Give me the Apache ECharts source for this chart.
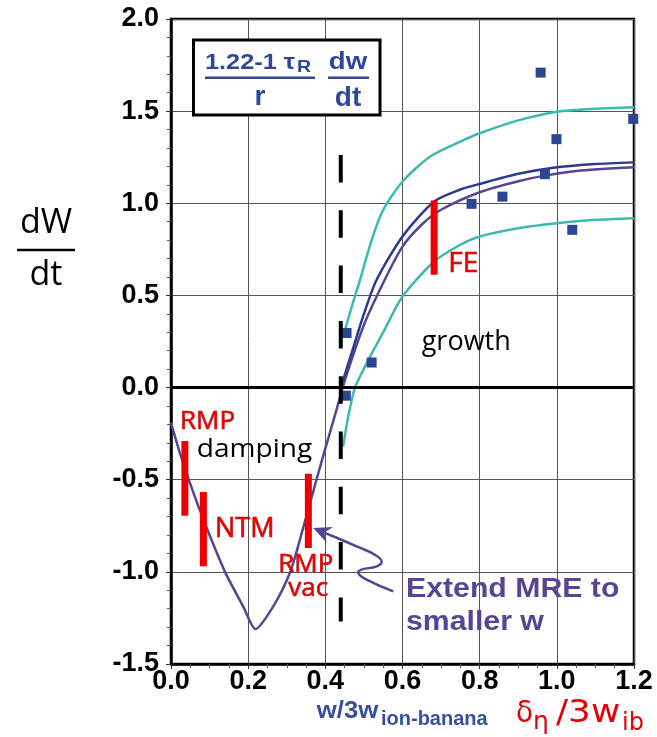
<!DOCTYPE html>
<html><head><meta charset="utf-8">
<script src="https://cdn.jsdelivr.net/npm/echarts/dist/echarts.min.js"></script>
<style>html,body{margin:0;padding:0;background:#fff}#c{width:657px;height:737px}</style>
</head><body><div id="c"></div>
<script>
// ---- data ----
const xTickValues = [0.0, 0.2, 0.4, 0.6, 0.8, 1.0, 1.2];
const yTickValues = [-1.5, -1.0, -0.5, 0.0, 0.5, 1.0, 1.5, 2.0];

// MRE curve extended to smaller w (purple)
const mreCurve = [
  [0.0,-0.19],[0.023,-0.355],[0.047,-0.505],[0.084,-0.716],[0.14,-1.0],[0.187,-1.187],
  [0.219,-1.31],[0.265,-1.187],[0.308,-1.006],[0.334,-0.826],[0.377,-0.5],[0.40,-0.33],
  [0.425,-0.15],[0.451,0.042],[0.50,0.34],[0.554,0.585],[0.60,0.765],[0.65,0.885],
  [0.70,0.965],[0.80,1.06],[0.90,1.12],[0.969,1.15],[1.05,1.175],[1.2,1.195]
];
// navy model curve
const navyCurve = [
  [0.44,0.0],[0.47,0.2],[0.50,0.40],[0.533,0.585],[0.60,0.82],[0.682,1.01],[0.75,1.075],
  [0.80,1.105],[0.90,1.16],[1.00,1.195],[1.10,1.213],[1.20,1.222]
];
// teal upper / lower bounds
const tealUpper = [
  [0.451,0.313],[0.47,0.45],[0.49,0.585],[0.52,0.80],[0.55,0.964],[0.60,1.118],[0.671,1.253],
  [0.75,1.335],[0.80,1.38],[0.90,1.45],[1.00,1.497],[1.10,1.513],[1.2,1.521]
];
const tealLower = [
  [0.446,-0.32],[0.46,-0.15],[0.477,0.0],[0.516,0.168],[0.55,0.30],[0.60,0.494],[0.682,0.684],
  [0.75,0.775],[0.80,0.82],[0.90,0.865],[1.00,0.892],[1.10,0.91],[1.2,0.919]
];
// experimental points (squares)
const measured = [
  [0.453,-0.044],[0.455,0.296],[0.52,0.136],[0.779,0.997],[0.859,1.036],[0.958,1.709],
  [0.969,1.158],[0.999,1.348],[1.04,0.856],[1.198,1.458]
];
// red range bars: [x, yTop, yBottom]
const rangeBars = [
  [0.036,-0.29,-0.695],[0.084,-0.567,-0.97],[0.356,-0.467,-0.87],[0.682,1.015,0.612]
];
// dashed threshold line: [x, yTop, yBottom]
const threshold = [0.44, 1.262, -1.27];
// annotation arrow path (tip first)
const arrowPath = [
  [0.3687,-0.762],[0.4205,-0.807],[0.481,-0.862],[0.5285,-0.907],[0.546,-0.943],
  [0.533,-0.970],[0.494,-0.988],[0.485,-1.006],[0.507,-1.042],[0.576,-1.106]
];

// ---- styles ----
const NAVY = '#2c3b8e', PURPLE = '#574593', TEAL = '#3dbab0', SQ = '#2b4690', RED = '#ee0000';
const AXF = 'Liberation Sans';

const chart = echarts.init(document.getElementById('c'), null, {renderer:'canvas'});

function curve(data, color, z) {
  return {type:'line', data, showSymbol:false, symbol:'none', smooth:0.25,
    lineStyle:{color, width:2.5}, z, silent:true, animation:false};
}

const series = [
  {type:'line', data:[], markLine:{silent:true, symbol:'none', label:{show:false},
    lineStyle:{color:'#000', width:3, type:'solid'}, data:[{yAxis:0}]}, z:1, animation:false},
  curve(tealUpper, TEAL, 3), curve(tealLower, TEAL, 3),
  curve(mreCurve, PURPLE, 4), curve(navyCurve, NAVY, 4),
  {type:'scatter', data:measured, symbol:'rect', symbolSize:10, itemStyle:{color:SQ, opacity:1}, z:5, clip:false, animation:false},
];
rangeBars.forEach(b => series.push({type:'line', data:[[b[0],b[1]],[b[0],b[2]]], symbol:'none',
  lineStyle:{color:RED, width:7, cap:'butt'}, z:6, animation:false}));
series.push({type:'line', data:[[threshold[0],threshold[1]],[threshold[0],threshold[2]]], symbol:'none',
  lineStyle:{color:'#000', width:4, type:[27.5,27.8], cap:'butt'}, z:7, animation:false});
series.push({type:'custom', data:[0], z:8, animation:false, silent:true,
  renderItem(params, api) {
    const pts = arrowPath.map(p => api.coord(p));
    const tip = pts[0];
    const dx = pts[1][0]-tip[0], dy = pts[1][1]-tip[1];
    const L = Math.hypot(dx,dy), ux = dx/L, uy = dy/L, px = -uy, py = ux;
    const len = 18, hw = 8.5, notch = 12;
    const b1 = [tip[0]+ux*len+px*hw, tip[1]+uy*len+py*hw];
    const b2 = [tip[0]+ux*len-px*hw, tip[1]+uy*len-py*hw];
    const n = [tip[0]+ux*notch, tip[1]+uy*notch];
    const linePts = [n].concat(pts.slice(1));
    return {type:'group', children:[
      {type:'polyline', shape:{points:linePts, smooth:0.45}, style:{stroke:PURPLE, lineWidth:2.5, fill:null}},
      {type:'polygon', shape:{points:[tip,b1,n,b2]}, style:{fill:PURPLE}}
    ]};
  }});

function txt(text, x, y, font, fill, align, extra) {
  const el = {type:'text', x, y, z:100, style:Object.assign({text, x:0, y:0, font, fill,
    textAlign:align||'left', textVerticalAlign:'middle', align:align||'left', verticalAlign:'middle'}, (extra&&extra.style)||{})};
  if (extra && extra.scaleX) el.scaleX = extra.scaleX;
  return el;
}
const OS = '"Open Sans"';
const redStyle = {stroke:'#9a0000', lineWidth:0.6};
const BLUE = '#2e4799';
const graphics = [
  // y axis title fraction
  txt('dW', 46, 223.8, '34px '+OS, '#000', 'center'),
  {type:'line', z:100, shape:{x1:17, y1:250, x2:75, y2:250}, style:{stroke:'#000', lineWidth:2.5}},
  txt('dt', 46, 275.8, '34px '+OS, '#000', 'center'),
  // formula box
  {type:'rect', z:99, shape:{x:193.5, y:40, width:186.5, height:75}, style:{fill:'#fff', stroke:'#000', lineWidth:3}},
  txt('1.22-1 \u03c4', 205, 62.5, 'bold 22px "'+AXF+'"', BLUE, 'left', {scaleX:1.15}),
  txt('R', 297, 67.3, 'bold 17px "'+AXF+'"', BLUE, 'left', {scaleX:1.15}),
  {type:'line', z:100, shape:{x1:205, y1:77.7, x2:315, y2:77.7}, style:{stroke:BLUE, lineWidth:2.5}},
  txt('r', 260, 97, 'bold 28px "'+AXF+'"', BLUE, 'center'),
  txt('dw', 348, 62, 'bold 24px "'+AXF+'"', BLUE, 'center', {scaleX:1.15}),
  {type:'line', z:100, shape:{x1:328, y1:77.7, x2:369, y2:77.7}, style:{stroke:BLUE, lineWidth:2.5}},
  txt('dt', 348, 98.3, 'bold 28px "'+AXF+'"', BLUE, 'center'),
  // annotations
  txt('RMP', 180, 421.6, '26px '+OS, RED, 'left', {style:redStyle}),
  txt('damping', 196.7, 449.9, '26px '+OS, '#000', 'left', {scaleX:1.08}),
  txt('NTM', 215, 529.5, '27px '+OS, RED, 'left', {style:redStyle}),
  txt('RMP', 278.3, 564.9, '26px '+OS, RED, 'left', {style:redStyle}),
  txt('vac', 288.3, 588.2, '26px '+OS, RED, 'left', {style:redStyle}),
  txt('FE', 448.3, 264.1, '28px '+OS, RED, 'left', {style:redStyle}),
  txt('growth', 421.7, 342.8, '27px '+OS, '#000', 'left'),
  txt('Extend MRE to', 406, 590, 'bold 27px "'+AXF+'"', PURPLE, 'left', {scaleX:1.12}),
  txt('smaller w', 406, 622.3, 'bold 27px "'+AXF+'"', PURPLE, 'left', {scaleX:1.12}),
  // x axis titles
  txt('w/3w', 316.7, 712, 'bold 23px "'+AXF+'"', '#3550a0', 'left', {scaleX:1.12}),
  txt('ion-banana', 381, 719.8, 'bold 20px "'+AXF+'"', '#3550a0', 'left'),
  txt('\u03b4', 516, 713.9, '31px "DejaVu Sans"', '#e4000a', 'left', {scaleX:0.9}),
  txt('\u03b7', 533, 722.7, '25px "DejaVu Sans"', '#e4000a', 'left'),
  txt('/3w', 556, 713.9, '32px "DejaVu Sans"', '#e4000a', 'left', {scaleX:1.12}),
  txt('ib', 622, 723.4, '24px "DejaVu Sans"', '#e4000a', 'left'),
];

const axisCommon = {
  type:'value',
  axisLine:{show:true, onZero:false, lineStyle:{color:'#000', width:2.5}},
  axisTick:{show:true, length:5, lineStyle:{color:'#333', width:1}},
  splitLine:{show:true, lineStyle:{color:'#555', width:1}},
  axisLabel:{formatter:v=>v.toFixed(1), fontSize:27, fontWeight:'bold', fontFamily:AXF, color:'#000'}
};
chart.setOption({
  animation:false,
  backgroundColor:'#fff',
  grid:{left:171, right:23, top:19, bottom:73, show:true, borderColor:'#000', borderWidth:2.5, containLabel:false},
  xAxis:Object.assign({}, axisCommon, {min:xTickValues[0], max:xTickValues[xTickValues.length-1], interval:0.2,
    minorTick:{show:true, splitNumber:4, length:4, lineStyle:{color:'#555'}},
    axisLabel:Object.assign({}, axisCommon.axisLabel, {margin:4})}),
  yAxis:Object.assign({}, axisCommon, {min:yTickValues[0], max:yTickValues[yTickValues.length-1], interval:0.5,
    minorTick:{show:true, splitNumber:5, length:4, lineStyle:{color:'#555'}},
    axisLabel:Object.assign({}, axisCommon.axisLabel, {margin:12})}),
  series,
  graphic:graphics
});
</script></body></html>
